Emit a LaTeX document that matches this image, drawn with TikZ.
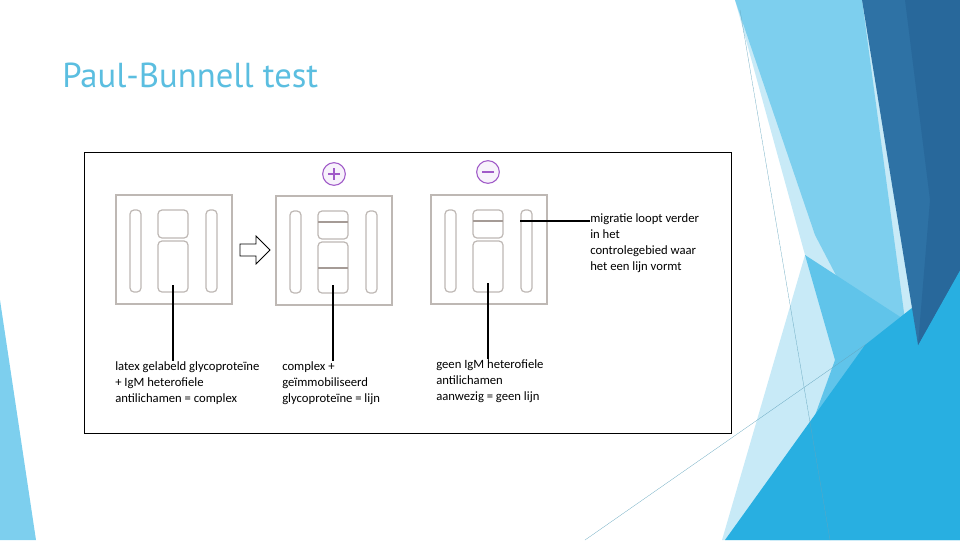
\documentclass[tikz,border=0pt]{standalone}
\usepackage{fontspec}
\setmainfont{Carlito}
\newfontfamily\titlefont{PT Sans}
\usetikzlibrary{positioning}
\definecolor{titleblue}{RGB}{91, 190, 224}
\definecolor{cardgray}{RGB}{190, 184, 180}
\definecolor{linegray}{RGB}{165, 155, 150}
\definecolor{signpurple}{RGB}{160, 90, 200}
\definecolor{paleblue}{RGB}{200, 234, 247}
\definecolor{lightblue}{RGB}{125, 207, 238}
\definecolor{midblue}{RGB}{96, 196, 234}
\definecolor{cyanblue}{RGB}{40, 175, 225}
\definecolor{darkblue}{RGB}{46, 114, 165}
\definecolor{deepblue}{RGB}{40, 104, 155}
\tikzset{
    card/.style = {draw=cardgray, line width=1pt},
    slot/.style = {draw=cardgray, line width=0.9pt, rounded corners=3pt},
    band/.style = {draw=linegray, line width=2pt},
    lead/.style = {draw=black, line width=0.8pt},
    label/.style = {align=left, anchor=north west, inner sep=0pt,
      font=\fontsize{9.5}{12}\selectfont},
    sign/.style = {circle, draw=signpurple, fill=signpurple!8, thick,
      minimum size=17pt, inner sep=0pt, text=signpurple},
}
\newcommand{\testcard}[2]{%
  \draw[card] (#1,#2) rectangle ++(116,109);
  \draw[slot] (#1+14,#2+15) rectangle ++(11,82);
  \draw[slot] (#1+90,#2+15) rectangle ++(11,82);
  \draw[slot] (#1+42,#2+15) rectangle ++(30,28);
  \draw[slot] (#1+42,#2+46) rectangle ++(30,51);
}
\begin{document}
\begin{tikzpicture}[x=0.75pt, y=-0.75pt]
  \useasboundingbox (0,0) rectangle (960,540);
  % background
  \fill[paleblue] (735,0) -- (960,0) -- (960,540) -- (722,540) -- (805,255) -- cycle;
  \fill[lightblue] (735,0) -- (862,0) -- (905,320) -- (875,350) -- (815,235) -- cycle;
  \fill[midblue] (805,255) -- (905,320) -- (960,260) -- (960,540) -- (770,540) -- (835,360) -- cycle;
  \fill[cyanblue] (725,540) -- (865,345) -- (960,270) -- (960,540) -- cycle;
  \fill[darkblue] (862,0) -- (960,0) -- (960,270) -- (918,345) -- cycle;
  \fill[deepblue] (905,0) -- (960,0) -- (960,270) -- (918,345) -- (930,200) -- cycle;
  \fill[lightblue] (0,300) -- (0,540) -- (36,540) -- cycle;
  \draw[lightblue!80!black, very thin] (740,10) -- (830,540);
  \draw[lightblue!80!black, very thin] (585,540) -- (865,345);
  % title
  \node[anchor=west, inner sep=0pt, text=titleblue,
    font=\titlefont\fontsize{26}{26}\selectfont] (title) at (62,75) {Paul-Bunnell test};
  % figure
  \draw[black, line width=0.7pt, fill=white] (84,152) rectangle (731,433);
  \testcard{116}{195}
  \testcard{276}{196}
  \testcard{431}{195}
  \draw[band] (318,222) -- (348,222);
  \draw[band] (318,268) -- (348,268);
  \draw[band] (473,221) -- (503,221);
  \draw[line width=0.6pt] (240,244) -- (256,244) -- (256,236) -- (270,250)
    -- (256,264) -- (256,256) -- (240,256) -- cycle;
  \node[sign] (plus) at (334,174) {};
  \node[sign] (minus) at (488,172) {};
  \draw[signpurple, line width=2pt] (plus.center) +(-6,0) -- +(6,0) +(0,-6) -- +(0,6);
  \draw[signpurple, line width=2pt] (minus.center) +(-6,0) -- +(6,0);
  % labels
  \node[label] (latex) at (115,361) {latex gelabeld glycoproteïne\\+ IgM heterofiele\\antilichamen = complex};
  \node[label] (complex) at (282,361) {complex +\\geïmmobiliseerd\\glycoproteïne = lijn};
  \node[label] (geen) at (436,359) {geen IgM heterofiele\\antilichamen\\aanwezig = geen lijn};
  \node[label] (migratie) at (590,213) {migratie loopt verder\\in het\\controlegebied waar\\het een lijn vormt};
  \coordinate (c1) at (173,285);
  \coordinate (c2) at (333,285);
  \coordinate (c3) at (488,283);
  \coordinate (c4) at (520,221);
  \draw[lead] (c1) -- (c1 |- latex.north);
  \draw[lead] (c2) -- (c2 |- complex.north);
  \draw[lead, line width=1.2pt] (c3) -- (c3 |- geen.north);
  \draw[lead, line width=1.2pt] (c4) -- (migratie.west |- c4);
\end{tikzpicture}
\end{document}
